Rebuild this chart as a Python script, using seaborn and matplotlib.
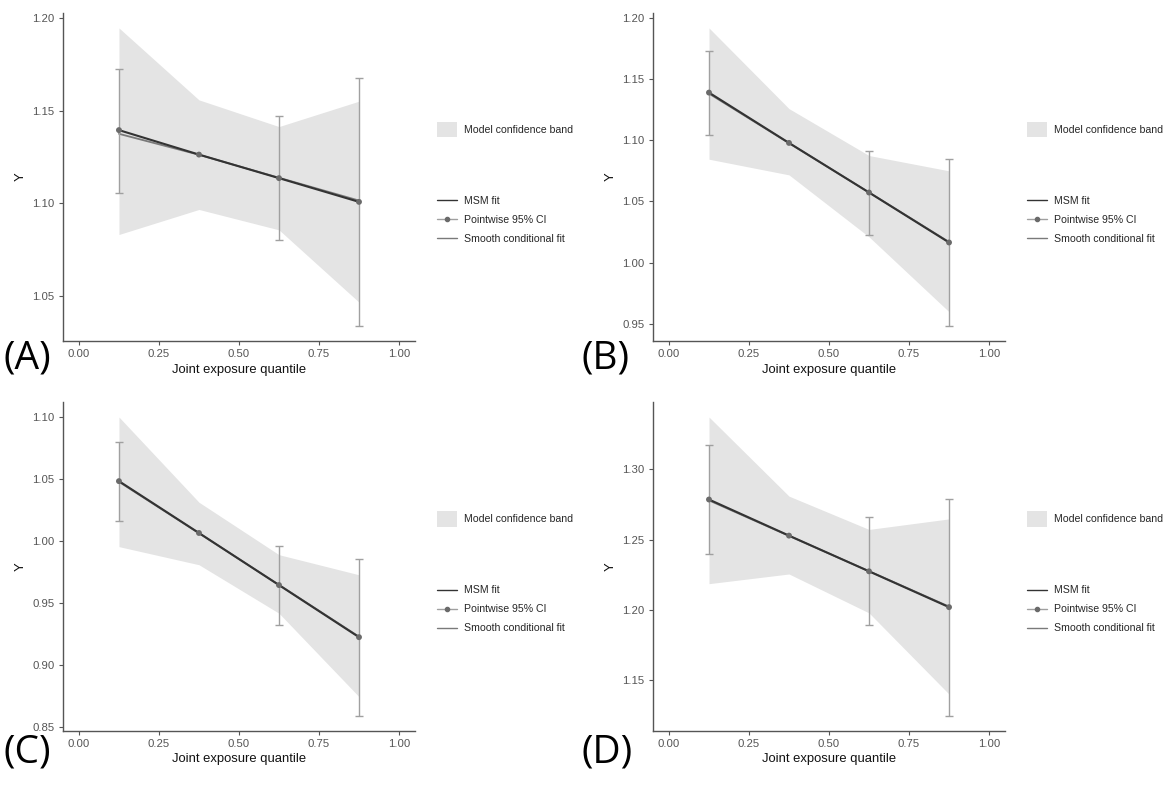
import numpy as np
import pandas as pd
import matplotlib
matplotlib.use("Agg")
import matplotlib.pyplot as plt
import seaborn as sns
from matplotlib.lines import Line2D
from matplotlib.patches import Patch
from matplotlib.ticker import MultipleLocator, FormatStrFormatter

# quantile midpoints
quantiles = [0.125, 0.375, 0.625, 0.875]
panel_names = ["(A)", "(B)", "(C)", "(D)"]

# MSM fit at each quantile
msm_a = [1.1395, 1.1263, 1.1136, 1.1008]
msm_b = [1.1388, 1.0977, 1.0572, 1.0164]
msm_c = [1.0483, 1.0065, 0.9645, 0.9225]
msm_d = [1.2786, 1.2529, 1.2275, 1.2020]

# smooth conditional fit
smooth_a = [1.1375, 1.1262, 1.1138, 1.1015]
smooth_b = [1.1380, 1.0975, 1.0573, 1.0168]
smooth_c = [1.0478, 1.0063, 0.9647, 0.9229]
smooth_d = [1.2780, 1.2527, 1.2276, 1.2024]

# model confidence band
band_lo_a = [1.0832, 1.0967, 1.0857, 1.0467]
band_hi_a = [1.1946, 1.1558, 1.1414, 1.1551]
band_lo_b = [1.0844, 1.0716, 1.0210, 0.9598]
band_hi_b = [1.1916, 1.1257, 1.0874, 1.0749]
band_lo_c = [0.9955, 0.9809, 0.9418, 0.8745]
band_hi_c = [1.1000, 1.0313, 0.9890, 0.9728]
band_lo_d = [1.2187, 1.2256, 1.1979, 1.1401]
band_hi_d = [1.3373, 1.2810, 1.2573, 1.2648]

# pointwise 95% CI (none shown at the reference quantile)
ci_lo_a = [1.1055, np.nan, 1.0800, 1.0338]
ci_hi_a = [1.1725, np.nan, 1.1470, 1.1675]
ci_lo_b = [1.1042, np.nan, 1.0229, 0.9481]
ci_hi_b = [1.1725, np.nan, 1.0912, 1.0847]
ci_lo_c = [1.0165, np.nan, 0.9325, 0.8589]
ci_hi_c = [1.0801, np.nan, 0.9958, 0.9858]
ci_lo_d = [1.2399, np.nan, 1.1890, 1.1245]
ci_hi_d = [1.3174, np.nan, 1.2658, 1.2791]

panels = [
    (msm_a, smooth_a, band_lo_a, band_hi_a, ci_lo_a, ci_hi_a),
    (msm_b, smooth_b, band_lo_b, band_hi_b, ci_lo_b, ci_hi_b),
    (msm_c, smooth_c, band_lo_c, band_hi_c, ci_lo_c, ci_hi_c),
    (msm_d, smooth_d, band_lo_d, band_hi_d, ci_lo_d, ci_hi_d),
]

sns.set_style("white")
plt.rcParams["font.family"] = ["Liberation Sans", "DejaVu Sans"]

fig = plt.figure(figsize=(11.7, 7.85), dpi=100)

# axes boxes in figure fractions
boxes = [
    [0.0538, 0.5656, 0.3009, 0.4178],
    [0.5581, 0.5656, 0.3009, 0.4178],
    [0.0538, 0.0688, 0.3009, 0.4190],
    [0.5581, 0.0688, 0.3009, 0.4190],
]
label_pos = [(0.003, 0.5427), (0.497, 0.5427), (0.003, 0.042), (0.497, 0.042)]

band_col = "#e4e4e4"
msm_col = "#333333"
smooth_col = "#7a7a7a"
ci_col = "#a0a0a0"
pt_col = "#6a6a6a"

for i, (msm, smooth, blo, bhi, clo, chi) in enumerate(panels):
    ax = fig.add_axes(boxes[i])
    df = pd.DataFrame({"q": quantiles, "msm": msm, "smooth": smooth,
                       "blo": blo, "bhi": bhi, "clo": clo, "chi": chi})

    ax.fill_between(df["q"], df["blo"], df["bhi"], color=band_col, lw=0, zorder=1)
    sns.lineplot(data=df, x="q", y="smooth", ax=ax, color=smooth_col, lw=1.3, zorder=2)
    sns.lineplot(data=df, x="q", y="msm", ax=ax, color=msm_col, lw=1.5, zorder=3)
    ok = df["clo"].notna()
    ax.errorbar(df["q"][ok], df["msm"][ok],
                yerr=[df["msm"][ok] - df["clo"][ok], df["chi"][ok] - df["msm"][ok]],
                fmt="none", ecolor=ci_col, elinewidth=1.0, capsize=2.8, capthick=1.0, zorder=4)
    sns.scatterplot(data=df, x="q", y="msm", ax=ax, color=pt_col, s=18,
                    edgecolor="none", zorder=5)

    # ggplot-style 5% expansion
    lo = np.nanmin([df["blo"].min(), df["clo"].min()])
    hi = np.nanmax([df["bhi"].max(), df["chi"].max()])
    pad = (hi - lo) * 0.05
    ax.set_ylim(lo - pad, hi + pad)
    ax.set_xlim(-0.05, 1.05)
    ax.xaxis.set_major_locator(MultipleLocator(0.25))
    ax.yaxis.set_major_locator(MultipleLocator(0.05))
    ax.xaxis.set_major_formatter(FormatStrFormatter("%.2f"))
    ax.yaxis.set_major_formatter(FormatStrFormatter("%.2f"))

    for s in ["top", "right"]:
        ax.spines[s].set_visible(False)
    for s in ["left", "bottom"]:
        ax.spines[s].set_color("#555555")
        ax.spines[s].set_linewidth(1.0)
    ax.tick_params(axis="both", which="major", length=3, width=0.8, color="#555555",
                   labelsize=8.2, labelcolor="#555555", pad=3, left=True, bottom=True)
    ax.set_xlabel("Joint exposure quantile", fontsize=9.4, color="#111111", labelpad=3)
    ax.set_ylabel("Y", fontsize=9.4, color="#111111", labelpad=4)

    # legends
    h_band = [Patch(facecolor=band_col, edgecolor="none")]
    leg1 = ax.legend(h_band, ["Model confidence band"], loc="center left",
                     bbox_to_anchor=(1.0625, 0.645), frameon=False, fontsize=7.6,
                     handlelength=1.9, handleheight=1.9, handletextpad=0.7,
                     borderaxespad=0, borderpad=0)
    ax.add_artist(leg1)
    h_lines = [
        Line2D([], [], color=msm_col, lw=1.0),
        Line2D([], [], color=ci_col, lw=1.0, marker="o", markersize=3,
               markerfacecolor=pt_col, markeredgecolor=pt_col),
        Line2D([], [], color=smooth_col, lw=1.0),
    ]
    ax.legend(h_lines, ["MSM fit", "Pointwise 95% CI", "Smooth conditional fit"],
              loc="center left", bbox_to_anchor=(1.0625, 0.37), frameon=False,
              fontsize=7.6, handlelength=1.9, handletextpad=0.7, labelspacing=0.85,
              borderaxespad=0, borderpad=0)

    fig.text(label_pos[i][0], label_pos[i][1], panel_names[i], fontsize=28,
             family=["Open Sans", "DejaVu Sans"], va="center", ha="left", color="black")

fig.savefig("out.png", dpi=100)
